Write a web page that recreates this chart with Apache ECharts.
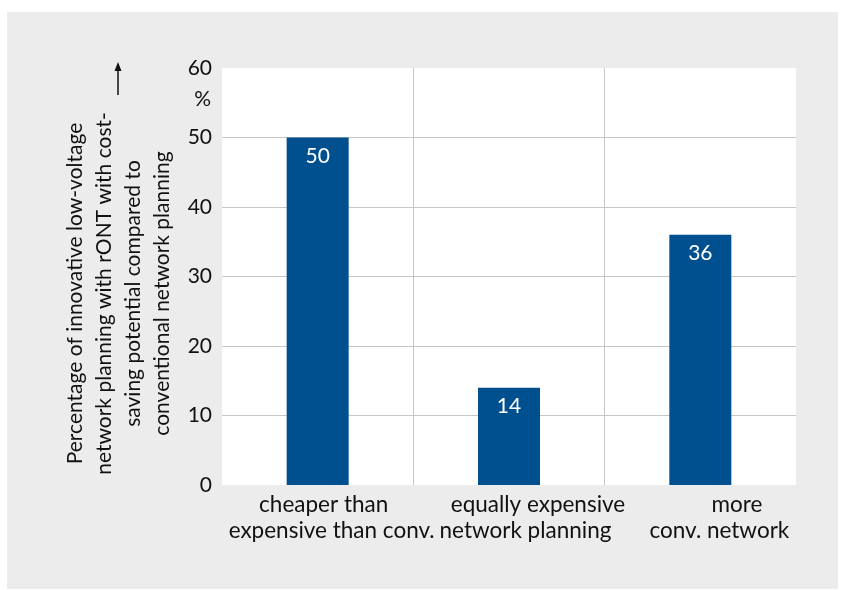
<!DOCTYPE html>
<html>
<head>
<meta charset="utf-8">
<script src="https://cdn.jsdelivr.net/npm/echarts@6/dist/echarts.min.js"></script>
<style>
html,body{margin:0;padding:0;background:#fff;}
#c{position:absolute;left:7px;top:12px;width:831px;height:577px;background:#ececec;}
</style>
</head>
<body>
<div id="c"></div>
<script>
const categories = ['cheaper than\nexpensive than conv.', 'equally expensive\nnetwork planning', 'more\nconv. network'];
const values = [50, 14, 36];
const yTicks = {min: 0, max: 60, interval: 10};
const yTitle = 'Percentage of innovative low-voltage\nnetwork planning with rONT with cost-\nsaving potential compared to\nconventional network planning';
const yUnit = '%';

const FONT = 'Lato';
const FS = 21;
const XFS = 22.5;
const chart = echarts.init(document.getElementById('c'), null, {renderer: 'canvas'});
const lineShift = [[12, 28], [58, 33], [73, 38]];
chart.setOption({
  backgroundColor: 'transparent',
  textStyle: {fontFamily: FONT},
  grid: {left: 215, right: 42, top: 56, bottom: 104, show: true, backgroundColor: '#ffffff', borderWidth: 0},
  xAxis: {
    type: 'category',
    data: categories,
    axisLine: {show: false},
    axisTick: {show: false},
    splitLine: {show: true, showMinLine: false, showMaxLine: false, lineStyle: {color: '#c6c6c6', width: 1}},
    axisLabel: {
      interval: 0, margin: 6, color: '#111', fontSize: XFS, fontFamily: FONT, lineHeight: 26.5,
      formatter: function (v, i) {
        const parts = v.split('\n');
        return '{a' + i + '|' + parts[0] + '}\n{b' + i + '|' + parts[1] + '}';
      },
      rich: (function () {
        const r = {};
        lineShift.forEach(function (s, i) {
          r['a' + i] = {fontSize: XFS, fontFamily: FONT, color: '#111', lineHeight: 26.5, padding: [0, 0, 0, s[0]]};
          r['b' + i] = {fontSize: XFS, fontFamily: FONT, color: '#111', lineHeight: 26.5, padding: [0, 0, 0, s[1]]};
        });
        return r;
      })()
    }
  },
  yAxis: {
    type: 'value',
    min: yTicks.min, max: yTicks.max, interval: yTicks.interval,
    axisLine: {show: false},
    axisTick: {show: false},
    splitLine: {show: true, showMinLine: false, showMaxLine: false, lineStyle: {color: '#c6c6c6', width: 1}},
    axisLabel: {color: '#111', fontSize: FS, fontFamily: FONT, margin: 10},
    name: yTitle,
    nameLocation: 'middle',
    nameRotate: 90,
    nameGap: 45,
    nameTextStyle: {color: '#111', fontSize: FS, fontFamily: FONT, lineHeight: 29, align: 'center', padding: [0, 34, 0, 0]}
  },
  graphic: [
    {type: 'text', right: 627, top: 77, style: {text: yUnit, fontSize: FS, fontFamily: FONT, fill: '#111'}},
    {type: 'group', children: [
      {type: 'line', shape: {x1: 111, y1: 56, x2: 111, y2: 83}, style: {stroke: '#111', lineWidth: 1.5}},
      {type: 'polygon', shape: {points: [[111, 50], [107.5, 59], [114.5, 59]]}, style: {fill: '#111'}}
    ]}
  ],
  series: [{
    type: 'bar',
    data: values,
    barWidth: 62,
    itemStyle: {color: '#00508f'},
    label: {show: true, position: 'insideTop', distance: 8, color: '#fff', fontSize: FS, fontFamily: FONT},
    silent: true,
    animation: false
  }],
  animation: false
});
</script>
</body>
</html>
